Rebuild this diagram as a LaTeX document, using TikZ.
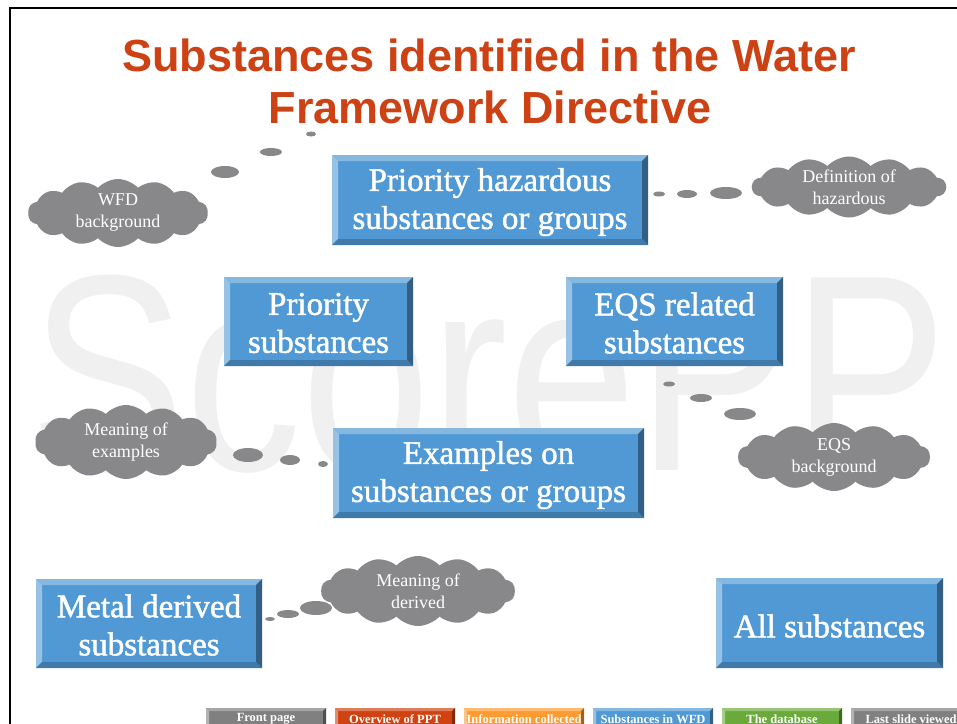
\documentclass[tikz,border=0pt]{standalone}
\usepackage{fontspec}
\setmainfont{Liberation Serif}
\newfontfamily\headfont{Liberation Sans}
\font\boxfnt="Liberation Serif:embolden=1.4" at 33pt
\def\boxfont{\boxfnt\baselineskip 38pt\relax}
\usetikzlibrary{shapes.symbols, calc}

\definecolor{titlered}{RGB}{205,66,20}
\definecolor{boxblue}{RGB}{80,153,212}
\definecolor{cloudgray}{RGB}{136,136,138}
\definecolor{btngray}{RGB}{128,128,128}
\definecolor{btnred}{RGB}{208,66,18}
\definecolor{btnorange}{RGB}{255,155,48}
\definecolor{btngreen}{RGB}{106,170,58}

% bevelled rectangle: [colour,bevel](left,top)(right,bottom)
\def\bevelrect[#1,#2](#3,#4)(#5,#6){%
	\fill[#1] (#3,#4) rectangle (#5,#6);
	\fill[#1!70!white] (#3,#4) -- (#5,#4) -- (#5-#2,#4+#2) -- (#3+#2,#4+#2) -- cycle;
	\fill[#1!60!white] (#3,#4) -- (#3+#2,#4+#2) -- (#3+#2,#6-#2) -- (#3,#6) -- cycle;
	\fill[#1!62!black] (#5,#4) -- (#5,#6) -- (#5-#2,#6-#2) -- (#5-#2,#4+#2) -- cycle;
	\fill[#1!80!black] (#3,#6) -- (#5,#6) -- (#5-#2,#6-#2) -- (#3+#2,#6-#2) -- cycle;
}
% small thought bubble
\def\bubble(#1,#2)(#3:#4){\fill[cloudgray] (#1,#2) ellipse (#3 and #4);}

\begin{document}
\begin{tikzpicture}[x=1pt, y=-1pt,
	boxtext/.style={text=white, align=center, font=\boxfont},
	thought/.style={cloud, cloud puffs=14, cloud puff arc=95, cloud ignores aspect,
		fill=cloudgray, text=white, align=center, inner sep=0pt,
		font=\fontsize{18}{22}\selectfont},
	btntext/.style={text=white, font=\bfseries\fontsize{12.5}{12.5}\selectfont}]

	\useasboundingbox (0,0) rectangle (957,723);
	\clip (0,0) rectangle (957,723);
	\fill[white] (0,0) rectangle (957,723);

	% Watermark
	\node[anchor=base west, inner sep=0pt, text=black!6, xscale=0.83,
		font=\headfont\fontsize{280}{280}\selectfont] (mark) at (30,470) {ScorePP};

	% Slide frame
	\draw[line width=2.5pt] (10,730) -- (10,8) -- (970,8);

	% Title
	\node[text=titlered, font=\headfont\bfseries\fontsize{45}{52}\selectfont, anchor=base]
		(titleA) at (489,71) {Substances identified in the Water};
	\node[text=titlered, font=\headfont\bfseries\fontsize{45}{52}\selectfont, anchor=base]
		(titleB) at (490,123) {Framework Directive};

	% The substance boxes
	\bevelrect[boxblue,6](332,155)(648,245)
	\node[boxtext] (phs) at (490,202) {Priority hazardous\\substances or groups};
	\bevelrect[boxblue,6](224,277)(413,366)
	\node[boxtext] (ps) at (318.5,323) {Priority\\substances};
	\bevelrect[boxblue,6](566,277)(783,366)
	\node[boxtext] (eqs) at (674.5,323) {EQS related\\substances};
	\bevelrect[boxblue,6](333,428)(644,518)
	\node[boxtext] (ex) at (488.5,475) {Examples on\\substances or groups};
	\bevelrect[boxblue,6](36,579)(262,668)
	\node[boxtext] (metal) at (149,625) {Metal derived\\substances};
	\bevelrect[boxblue,6](716,578)(943,668)
	\node[boxtext] (all) at (829.5,626) {All substances};

	% Thought clouds
	\node[thought, minimum width=180pt, minimum height=68pt] (wfd) at (118,213) {WFD\\background};
	\node[thought, minimum width=194pt, minimum height=60pt] (defhaz) at (849,187) {Definition of\\hazardous};
	\node[thought, minimum width=182pt, minimum height=74pt] (meanex) at (126,442) {Meaning of\\examples};
	\node[thought, minimum width=192pt, minimum height=68pt] (eqsbg) at (834,457) {EQS\\background};
	\node[thought, minimum width=194pt, minimum height=70pt] (meander) at (418,591) {Meaning of\\derived};

	% Bubbles leading to the clouds
	\bubble(225,172)(14:6)
	\bubble(271,152)(11:4)
	\bubble(311,134)(5:2.5)
	\bubble(659,194)(6:2.5)
	\bubble(687,194)(10:4)
	\bubble(726,193)(16:6)
	\bubble(248,455)(15:7)
	\bubble(290,460)(10:5)
	\bubble(323,464)(5:3)
	\bubble(669,384)(6:2.5)
	\bubble(701,398)(11:4)
	\bubble(740,414)(16:6)
	\bubble(270,619)(5:2)
	\bubble(288,614)(11:4)
	\bubble(316,608)(16:7)

	% Navigation buttons
	\bevelrect[btngray,3](206,708)(326,735)
	\node[btntext] (front) at (266,719) {Front page};
	\bevelrect[btnred,3](335,708)(455,735)
	\node[btntext] (overview) at (395,719) {Overview of PPT};
	\bevelrect[btnorange,3](464,708)(584,735)
	\node[btntext] (info) at (524,719) {Information collected};
	\bevelrect[boxblue,3](593,708)(713,735)
	\node[btntext] (wfdbtn) at (653,719) {Substances in WFD};
	\bevelrect[btngreen,3](722,708)(842,735)
	\node[btntext] (database) at (782,719) {The database};
	\bevelrect[btngray,3](851,708)(971,735)
	\node[btntext] (last) at (911,719) {Last slide viewed};

\end{tikzpicture}
\end{document}
